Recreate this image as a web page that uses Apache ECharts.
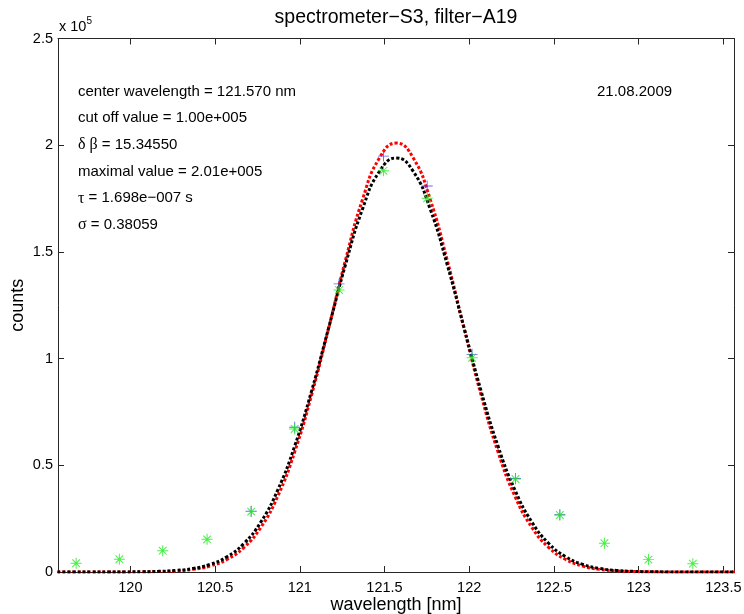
<!DOCTYPE html>
<html>
<head>
<meta charset="utf-8">
<script src="https://cdn.jsdelivr.net/npm/echarts@6/dist/echarts.min.js"></script>
<style>
html,body{margin:0;padding:0;background:#fff;}
#chart{width:744px;height:614px;}
</style>
</head>
<body>
<div id="chart"></div>
<script>
// ---- data ----
var curveX = [119.57,119.67,119.77,119.87,119.97,120.07,120.17,120.27,120.37,120.47,
              120.57,120.67,120.77,120.87,120.97,121.07,121.17,121.27,121.37,121.47,
              121.57,121.67,121.77,121.87,121.97,122.07,122.17,122.27,122.37,122.47,
              122.57,122.67,122.77,122.87,122.97,123.07,123.17,123.27,123.37,123.47,123.57];
var redCurve = [0,1,2,7,24,70,196,510,1230,2780,
                5850,11460,20900,35500,56300,83000,114100,146200,174500,194000,
                201000,194000,174500,146200,114100,83000,56300,35500,20900,11460,
                5850,2780,1230,510,196,70,24,7,2,1,0];
var blackCurve = [0,1,4,14,41,115,299,730,1665,3560,
                  7130,13350,23400,38400,59000,84900,114300,144100,170000,187700,
                  194000,187700,170000,144100,114300,84900,59000,38400,23400,13350,
                  7130,3560,1665,730,299,115,41,14,4,1,0];
var greenX = [119.680,119.935,120.191,120.453,120.713,120.970,121.232,121.494,121.752,122.017,122.273,122.535,122.798,123.058,123.320];
var greenY = [4100,6000,10000,15300,28300,67000,132100,188000,175100,100400,43600,26700,13500,5800,3900];
var blueX = [120.713,120.970,121.232,121.494,121.752,122.017,122.273,122.535];
var blueY = [28500,67800,135000,194900,180900,102000,43800,26800];
var xTicks = [120,120.5,121,121.5,122,122.5,123,123.5];
var yTickLabels = ['0','0.5','1','1.5','2','2.5'];

var titleText = 'spectrometer\u2212S3, filter\u2212A19';
var dateText = '21.08.2009';

// ---- chart ----
var F = '"Liberation Sans", Arial, Helvetica, sans-serif';
var AX = '#262626';
function zip(a, b) { return a.map(function (v, i) { return [v, b[i]]; }); }

var asterisk = 'path://M0 9.1L20 9.1L20 10.9L0 10.9Z M9.1 0L10.9 0L10.9 20L9.1 20Z M2.4 3.7L3.7 2.4L17.6 16.3L16.3 17.6Z M16.3 2.4L17.6 3.7L3.7 17.6L2.4 16.3Z';
var plus = 'path://M0 9.2L20 9.2L20 10.8L0 10.8Z M9.2 0L10.8 0L10.8 20L9.2 20Z';

var xMin = 119.573, xMax = 123.563;
var chart = echarts.init(document.getElementById('chart'), null, {renderer: 'canvas'});
var commonX = {
  type: 'value', min: xMin, max: xMax,
  axisLine: {show: true, onZero: false, lineStyle: {color: AX, width: 1}},
  splitLine: {show: false},
  axisTick: {show: true, inside: true, length: 6, customValues: xTicks, lineStyle: {color: AX}}
};
var commonY = {
  type: 'value', min: 0, max: 250000, interval: 50000,
  axisLine: {show: true, onZero: false, lineStyle: {color: AX, width: 1}},
  splitLine: {show: false},
  axisTick: {show: true, inside: true, length: 6, lineStyle: {color: AX}}
};
chart.setOption({
  animation: false,
  backgroundColor: '#fff',
  grid: {left: 58, right: 10, top: 38.5, bottom: 42, containLabel: false, outerBoundsMode: 'none'},
  xAxis: [
    Object.assign({}, commonX, {
      position: 'bottom',
      axisLabel: {show: true, customValues: xTicks, margin: 8, color: '#000', fontFamily: F, fontSize: 14.5,
        formatter: function (v) { return String(+v.toFixed(1)); }},
      name: 'wavelength [nm]', nameLocation: 'middle', nameGap: 24, nameMoveOverlap: false,
      nameTextStyle: {color: '#000', fontFamily: F, fontSize: 18}
    }),
    Object.assign({}, commonX, {position: 'top', axisLabel: {show: false}})
  ],
  yAxis: [
    Object.assign({}, commonY, {
      position: 'left',
      axisLabel: {show: true, margin: 5, color: '#000', fontFamily: F, fontSize: 14.5,
        formatter: function (v) { return yTickLabels[Math.round(v / 50000)]; }},
      name: 'counts', nameLocation: 'middle', nameGap: 31, nameRotate: 90, nameMoveOverlap: false,
      nameTextStyle: {color: '#000', fontFamily: F, fontSize: 18}
    }),
    Object.assign({}, commonY, {position: 'right', axisLabel: {show: false}})
  ],
  series: [
    {type: 'line', data: zip(curveX, redCurve), smooth: 0.5, showSymbol: false, clip: true, z: 2,
      lineStyle: {color: '#ff0000', width: 3, type: [3, 2], cap: 'butt'}},
    {type: 'line', data: zip(curveX, blackCurve), smooth: 0.5, showSymbol: false, clip: true, z: 3,
      lineStyle: {color: '#000000', width: 3, type: [3, 2], cap: 'butt'}},
    {type: 'scatter', data: zip(blueX, blueY), symbol: plus, symbolSize: 11, z: 4,
      itemStyle: {color: '#3a3aff'}},
    {type: 'scatter', data: zip(greenX, greenY), symbol: asterisk, symbolSize: 11, z: 5,
      itemStyle: {color: '#1ee81e'}}
  ],
  graphic: [
    {type: 'text', x: 396, y: 18, style: {text: titleText, font: '19.5px ' + F, fill: '#000', align: 'center', verticalAlign: 'middle'}},
    {type: 'text', x: 59, y: 27, style: {text: 'x 10{s|5}', font: '14.5px ' + F, fill: '#000', verticalAlign: 'middle',
      rich: {s: {fontSize: 10, fontFamily: F, verticalAlign: 'top', padding: [0, 0, 12, 0], fill: '#000'}}}},
    {type: 'text', x: 78, y: 91.7, style: {text: 'center wavelength = 121.570 nm', font: '15px ' + F, fill: '#000', verticalAlign: 'middle'}},
    {type: 'text', x: 78, y: 118.3, style: {text: 'cut off value = 1.00e+005', font: '15px ' + F, fill: '#000', verticalAlign: 'middle'}},
    {type: 'text', x: 78, y: 145, style: {text: '{g|\u03b4 \u03b2}{n| = 15.34550}', font: '15px ' + F, fill: '#000', verticalAlign: 'middle',
      rich: {g: {fontFamily: '"Liberation Serif", serif', fontSize: 16, fill: '#000'}, n: {fontFamily: F, fontSize: 15, fill: '#000'}}}},
    {type: 'text', x: 78, y: 171.7, style: {text: 'maximal value = 2.01e+005', font: '15px ' + F, fill: '#000', verticalAlign: 'middle'}},
    {type: 'text', x: 78, y: 198.3, style: {text: '{g|\u03c4}{n| = 1.698e\u2212007 s}', font: '15px ' + F, fill: '#000', verticalAlign: 'middle',
      rich: {g: {fontFamily: '"Liberation Serif", serif', fontSize: 16, fill: '#000'}, n: {fontFamily: F, fontSize: 15, fill: '#000'}}}},
    {type: 'text', x: 78, y: 225, style: {text: '{g|\u03c3}{n| = 0.38059}', font: '15px ' + F, fill: '#000', verticalAlign: 'middle',
      rich: {g: {fontFamily: '"Liberation Serif", serif', fontSize: 16, fill: '#000'}, n: {fontFamily: F, fontSize: 15, fill: '#000'}}}},
    {type: 'text', x: 597, y: 91.7, style: {text: dateText, font: '15px ' + F, fill: '#000', verticalAlign: 'middle'}}
  ]
});
</script>
</body>
</html>
